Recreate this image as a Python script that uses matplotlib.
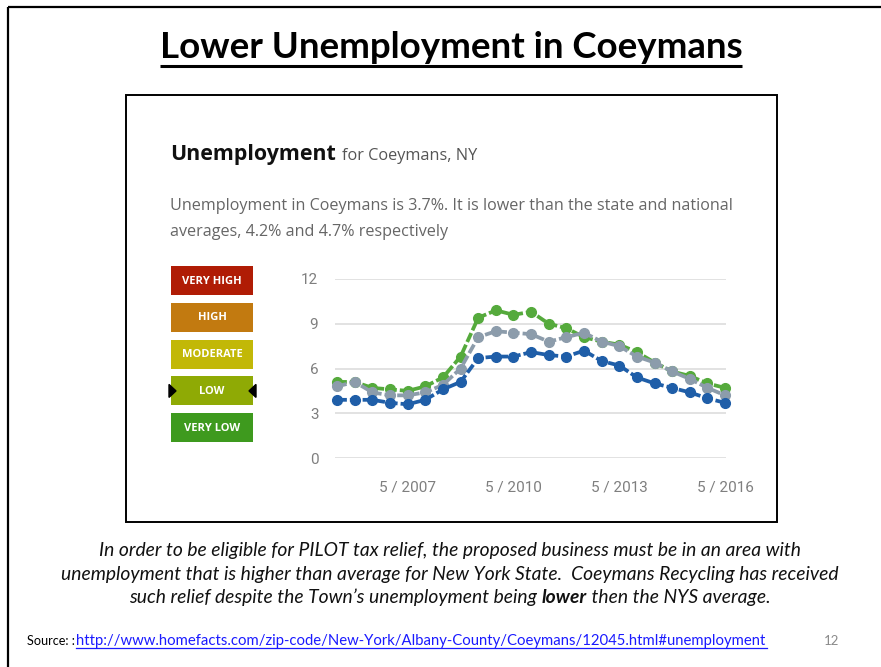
import matplotlib
matplotlib.use("Agg")
import matplotlib.pyplot as plt
from matplotlib.patches import Rectangle, Polygon

# semi-annual readings, 5/2005 .. 5/2016
tick_idx = [4, 10, 16, 22]
tick_labels = ["5 / 2007", "5 / 2010", "5 / 2013", "5 / 2016"]
coeymans = [3.9, 3.9, 3.9, 3.7, 3.6, 3.9, 4.6, 5.1, 6.7, 6.8, 6.8, 7.1,
            6.9, 6.8, 7.2, 6.5, 6.2, 5.4, 5.0, 4.7, 4.4, 4.0, 3.7]
state = [4.8, 5.1, 4.4, 4.2, 4.2, 4.4, 4.9, 6.0, 8.1, 8.5, 8.4, 8.3,
         7.8, 8.1, 8.4, 7.8, 7.5, 6.8, 6.4, 5.8, 5.3, 4.7, 4.2]
national = [5.1, 5.1, 4.7, 4.6, 4.5, 4.8, 5.4, 6.8, 9.4, 9.9, 9.6, 9.8,
            9.0, 8.7, 8.1, 7.8, 7.6, 7.1, 6.4, 5.8, 5.5, 5.0, 4.7]
levels = ["VERY HIGH", "HIGH", "MODERATE", "LOW", "VERY LOW"]
level_colors = ["#b01c05", "#c27a10", "#c2b807", "#8faa05", "#3e9a1e"]

W, H = 881, 667
fig = plt.figure(figsize=(W / 100, H / 100), dpi=100)
fig.patch.set_facecolor("white")
bg = fig.add_axes([0, 0, 1, 1])
bg.set_xlim(0, W)
bg.set_ylim(H, 0)
bg.axis("off")
renderer = fig.canvas.get_renderer()


def fit(t, width):
    # scale font so the text spans `width` pixels
    w = t.get_window_extent(renderer).width
    t.set_fontsize(t.get_fontsize() * width / w)
    return t


# slide frame
bg.plot([8, 8], [7, H], color="black", lw=1.6, solid_capstyle="butt")
bg.plot([8, W], [7, 7], color="black", lw=1.6, solid_capstyle="butt")

# slide title
t = bg.text(451, 48, "Lower Unemployment in Coeymans", ha="center", va="center",
            fontsize=24, fontweight="bold", family="Lato")
fit(t, 582)
bg.plot([160, 742], [66, 66], color="black", lw=2.2, solid_capstyle="butt")

# screenshot box
bg.add_patch(Rectangle((126, 95), 651, 427, fill=False, edgecolor="black", lw=1.4))

t = bg.text(170, 160, "Unemployment", ha="left", va="baseline",
            fontsize=16, fontweight="bold", family="Open Sans", color="#111111")
fit(t, 166)
t = bg.text(342, 160, "for Coeymans, NY", ha="left", va="baseline",
            fontsize=11, family="Open Sans", color="#555555")
fit(t, 135)
t = bg.text(170, 210, "Unemployment in Coeymans is 3.7%. It is lower than the state and national",
            ha="left", va="baseline", fontsize=12, family="Open Sans", color="#666666")
fit(t, 562)
fs = t.get_fontsize()
bg.text(170, 236, "averages, 4.2% and 4.7% respectively", ha="left", va="baseline",
        fontsize=fs, family="Open Sans", color="#666666")

# level legend
for i, (lab, col) in enumerate(zip(levels, level_colors)):
    y0 = 266 + i * 36.8
    bg.add_patch(Rectangle((171, y0), 82, 29, facecolor=col, edgecolor="none"))
    bg.text(212, y0 + 15, lab, ha="center", va="center", color="white",
            fontsize=8, fontweight="bold", family="Open Sans")
    if lab == "LOW":
        bg.add_patch(Polygon([(169, y0 + 8), (176, y0 + 14.5), (169, y0 + 21)],
                             color="black"))
        bg.add_patch(Polygon([(256, y0 + 8), (249, y0 + 14.5), (256, y0 + 21)],
                             color="black"))

# chart
ax = fig.add_axes([335 / W, 1 - 458 / H, 391 / W, 179 / H])
ax.set_xlim(-0.12, 22.05)
ax.set_ylim(0, 12)
x = list(range(len(coeymans)))
for vals, col, z in [(national, "#55aa3c", 3), (state, "#8c9cab", 4), (coeymans, "#1f5ea8", 5)]:
    ax.plot(x, vals, color=col, lw=2.7, ls=(0, (2.6, 0.8)), marker="o",
            markersize=7, zorder=z, clip_on=False)
ax.set_yticks([0, 3, 6, 9, 12])
ax.set_xticks(tick_idx)
ax.set_xticklabels(tick_labels)
ax.grid(axis="y", color="#dddddd", lw=1.2)
ax.set_axisbelow(True)
for s in ax.spines.values():
    s.set_visible(False)
ax.tick_params(axis="both", length=0, labelcolor="#7f7f7f", labelsize=11)
ax.tick_params(axis="y", pad=12)
ax.tick_params(axis="x", pad=16)
for lab in ax.get_xticklabels() + ax.get_yticklabels():
    lab.set_family("Roboto")

# caption
cap_kw = dict(ha="center", va="baseline", style="italic", family="Lato", color="#111111")
t = bg.text(450, 556, "In order to be eligible for PILOT tax relief, the proposed business must be in an area with",
            fontsize=12, **cap_kw)
fit(t, 699)
cfs = t.get_fontsize()
bg.text(450, 580, "unemployment that is higher than average for New York State.  Coeymans Recycling has received",
        fontsize=cfs, **cap_kw)
parts = [("such relief despite the Town\u2019s unemployment being ", "normal"),
         ("lower", "bold"), (" then the NYS average.", "normal")]
objs = [bg.text(0, 603, p, fontsize=cfs, fontweight=w, ha="left", va="baseline",
                style="italic", family="Lato", color="#111111") for p, w in parts]
widths = [o.get_window_extent(renderer).width for o in objs]
xpos = 450 - sum(widths) / 2
for o, w in zip(objs, widths):
    o.set_x(xpos)
    xpos += w

# source line
s = bg.text(27, 645, "Source: :", ha="left", va="baseline", fontsize=8,
            family="Lato", color="black")
fit(s, 48)
link = bg.text(76, 645, "http://www.homefacts.com/zip-code/New-York/Albany-County/Coeymans/12045.html#unemployment",
               ha="left", va="baseline", fontsize=9, family="Lato", color="#1a1aff")
fit(link, 767 - 76)
bg.plot([76, 767], [647.5, 647.5], color="#1a1aff", lw=0.9)
bg.text(832, 645, "12", ha="center", va="baseline", fontsize=9.5, family="Lato",
        color="#8a8a8a")

fig.savefig("out.png", dpi=100)
